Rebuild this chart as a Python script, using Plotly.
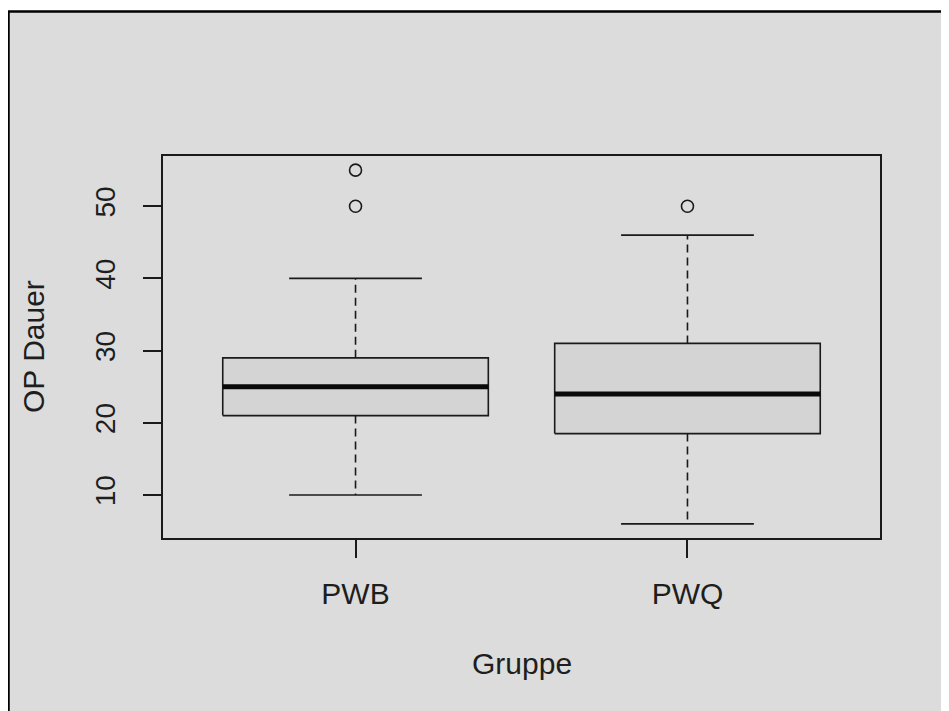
import plotly.graph_objects as go

groups = ["PWB", "PWQ"]
lower_whisker = [10, 6]
q1 = [21, 18.5]
median = [25, 24]
q3 = [29, 31]
upper_whisker = [40, 46]
outliers = {"PWB": [50, 55], "PWQ": [50]}
y_ticks = [10, 20, 30, 40, 50]

positions = [1, 2]
half_box = 0.4
half_staple = 0.2
line_col = "#1a1a1a"
fnt = dict(family="Liberation Sans, Arial, sans-serif", size=30, color="#1e1e1e")
tick_fnt_y = dict(family="Liberation Sans, Arial, sans-serif", size=28, color="#1e1e1e")

# plot area in figure pixels (page body adds an 8px offset)
L, T, W, H = 155, 148, 717, 382
FW, FH = 949, 711


def px_x(p):
    return (p - L) / W


def px_y(p):
    return (T + H - p) / H


fig = go.Figure()
for i, g in enumerate(groups):
    x = positions[i]
    fig.add_trace(go.Scatter(x=[x, x, None, x, x], y=[q3[i], upper_whisker[i], None, q1[i], lower_whisker[i]],
                             mode="lines", line=dict(color=line_col, width=1.6, dash="8px,5px"),
                             showlegend=False, hoverinfo="skip"))
    fig.add_trace(go.Scatter(x=[x - half_staple, x + half_staple, None, x - half_staple, x + half_staple],
                             y=[upper_whisker[i], upper_whisker[i], None, lower_whisker[i], lower_whisker[i]],
                             mode="lines", line=dict(color=line_col, width=1.6),
                             showlegend=False, hoverinfo="skip"))
    fig.add_trace(go.Scatter(x=[x - half_box, x + half_box, x + half_box, x - half_box, x - half_box],
                             y=[q1[i], q1[i], q3[i], q3[i], q1[i]],
                             mode="lines", fill="toself", fillcolor="#d4d4d4",
                             line=dict(color=line_col, width=1.6),
                             showlegend=False, hoverinfo="skip"))
    fig.add_trace(go.Scatter(x=[x - half_box, x + half_box], y=[median[i], median[i]],
                             mode="lines", line=dict(color="#0a0a0a", width=5),
                             showlegend=False, hoverinfo="skip"))
    ys = outliers[g]
    fig.add_trace(go.Scatter(x=[x] * len(ys), y=ys, mode="markers",
                             marker=dict(symbol="circle-open", size=12, color=line_col, line=dict(width=1.6)),
                             showlegend=False, hoverinfo="skip"))

# outer gray panel with left/top border
fig.add_shape(type="rect", xref="paper", yref="paper",
              x0=px_x(0.5), x1=px_x(FW + 60), y0=px_y(FH + 60), y1=px_y(3.5),
              fillcolor="#dcdcdc", line=dict(color="black", width=2.5), layer="below")

fig.update_layout(
    width=FW, height=FH,
    margin=dict(l=L, r=FW - L - W, t=T, b=FH - T - H),
    paper_bgcolor="white", plot_bgcolor="rgba(0,0,0,0)",
    font=fnt,
    showlegend=False,
    xaxis=dict(range=[0.42, 2.58], tickvals=positions, ticktext=groups,
               showline=True, mirror=True, linecolor=line_col, linewidth=1.6,
               ticks="outside", ticklen=18, tickwidth=1.6, tickcolor=line_col,
               showgrid=False, zeroline=False, ticklabelstandoff=10, tickfont=fnt),
    yaxis=dict(range=[4.04, 56.96], tickvals=y_ticks, ticktext=[str(v) for v in y_ticks],
               showline=True, mirror=True, linecolor=line_col, linewidth=1.6,
               ticks="outside", ticklen=18, tickwidth=1.6, tickcolor=line_col,
               showgrid=False, zeroline=False, tickangle=-90, ticklabelstandoff=17, tickfont=tick_fnt_y),
    annotations=[
        dict(text="Gruppe", xref="paper", yref="paper", x=0.5, y=px_y(655),
             xanchor="center", yanchor="middle", showarrow=False, font=fnt),
        dict(text="OP Dauer", xref="paper", yref="paper", x=px_x(25), y=0.5,
             xanchor="center", yanchor="middle", textangle=-90, showarrow=False, font=fnt),
    ],
)

fig.write_html("out.html")
